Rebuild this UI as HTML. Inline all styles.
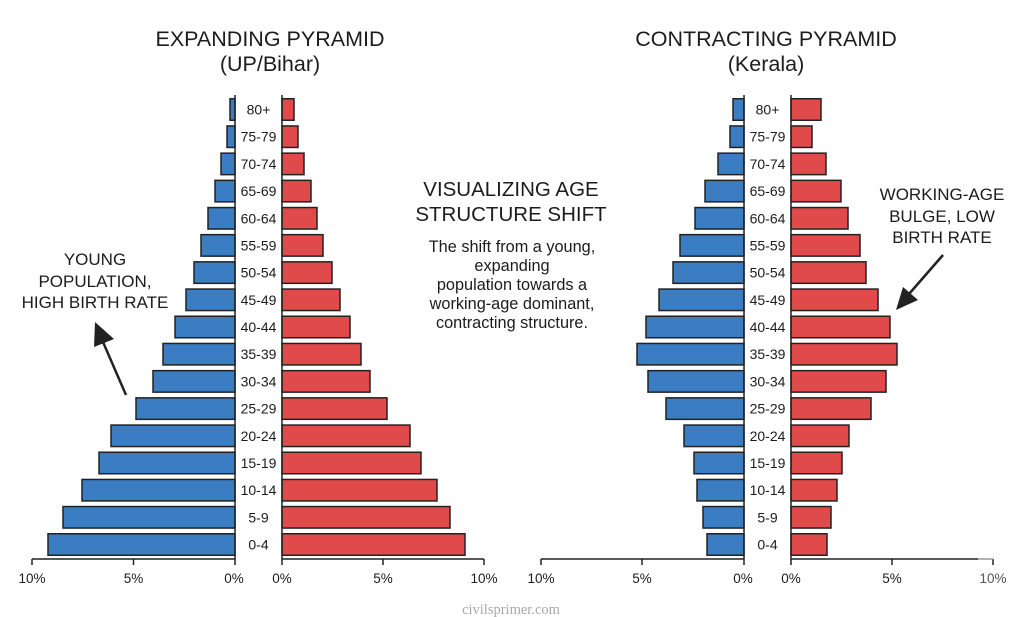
<!DOCTYPE html>
<html><head><meta charset="utf-8"><style>
html,body{margin:0;padding:0;background:#fff;}
svg{display:block;}
text{font-family:"Liberation Sans",sans-serif;fill:#1c1c1c;}
.t{font-size:21.5px;}
.a{font-size:14px;}
.k{font-size:13.5px;}
.n{font-size:17px;}
.b{font-size:16.3px;}
.B rect{fill:#3b7dc2;stroke:#222;stroke-width:1.5;}
.R rect{fill:#e14a4b;stroke:#222;stroke-width:1.5;}
.ax{stroke:#222;stroke-width:1.5;fill:none;}
</style></head><body>
<svg width="1024" height="617" viewBox="0 0 1024 617" xmlns="http://www.w3.org/2000/svg">
<rect width="1024" height="617" fill="#fff"/>

<!-- Titles -->
<text class="t" x="270" y="46" text-anchor="middle">EXPANDING PYRAMID</text>
<text class="t" x="270" y="71" text-anchor="middle">(UP/Bihar)</text>
<text class="t" x="766" y="46" text-anchor="middle">CONTRACTING PYRAMID</text>
<text class="t" x="766" y="71" text-anchor="middle">(Kerala)</text>

<!-- Middle -->
<text class="t" x="511" y="196" text-anchor="middle" style="font-size:20.5px">VISUALIZING AGE</text>
<text class="t" x="511" y="221" text-anchor="middle" style="font-size:20.5px">STRUCTURE SHIFT</text>
<g class="b" text-anchor="middle">
<text class="b" x="512" y="252">The shift from a young,</text>
<text class="b" x="512" y="271">expanding</text>
<text class="b" x="512" y="290">population towards a</text>
<text class="b" x="512" y="309">working-age dominant,</text>
<text class="b" x="512" y="328">contracting structure.</text>
</g>

<!-- Annotations -->
<g text-anchor="middle">
<text class="n" x="95" y="265">YOUNG</text>
<text class="n" x="95" y="287">POPULATION,</text>
<text class="n" x="95" y="308">HIGH BIRTH RATE</text>
<text class="n" x="942" y="200">WORKING-AGE</text>
<text class="n" x="942" y="222">BULGE, LOW</text>
<text class="n" x="942" y="243">BIRTH RATE</text>
</g>
<line x1="126" y1="395" x2="103" y2="342" stroke="#222" stroke-width="2.5"/>
<polygon points="95,322 114,339 94,347" fill="#222"/>
<line x1="943" y1="255" x2="909" y2="294" stroke="#222" stroke-width="2.5"/>
<polygon points="896,310 903,287 918,300" fill="#222"/>

<!-- LEFT PYRAMID -->
<g class="B">
<rect x="230" y="98.75" width="5" height="21.5"/>
<rect x="227" y="125.95" width="8" height="21.5"/>
<rect x="221" y="153.15" width="14" height="21.5"/>
<rect x="215" y="180.35" width="20" height="21.5"/>
<rect x="208" y="207.55" width="27" height="21.5"/>
<rect x="201" y="234.65" width="34" height="21.5"/>
<rect x="194" y="261.85" width="41" height="21.5"/>
<rect x="186" y="289.05" width="49" height="21.5"/>
<rect x="175" y="316.25" width="60" height="21.5"/>
<rect x="163" y="343.45" width="72" height="21.5"/>
<rect x="153" y="370.65" width="82" height="21.5"/>
<rect x="136" y="397.85" width="99" height="21.5"/>
<rect x="111" y="425.05" width="124" height="21.5"/>
<rect x="99" y="452.25" width="136" height="21.5"/>
<rect x="82" y="479.45" width="153" height="21.5"/>
<rect x="63" y="506.55" width="172" height="21.5"/>
<rect x="48" y="533.75" width="187" height="21.5"/>
</g>
<g class="R">
<rect x="282" y="98.75" width="12" height="21.5"/>
<rect x="282" y="125.95" width="16" height="21.5"/>
<rect x="282" y="153.15" width="22" height="21.5"/>
<rect x="282" y="180.35" width="29" height="21.5"/>
<rect x="282" y="207.55" width="35" height="21.5"/>
<rect x="282" y="234.65" width="41" height="21.5"/>
<rect x="282" y="261.85" width="50" height="21.5"/>
<rect x="282" y="289.05" width="58" height="21.5"/>
<rect x="282" y="316.25" width="68" height="21.5"/>
<rect x="282" y="343.45" width="79" height="21.5"/>
<rect x="282" y="370.65" width="88" height="21.5"/>
<rect x="282" y="397.85" width="105" height="21.5"/>
<rect x="282" y="425.05" width="128" height="21.5"/>
<rect x="282" y="452.25" width="139" height="21.5"/>
<rect x="282" y="479.45" width="155" height="21.5"/>
<rect x="282" y="506.55" width="168" height="21.5"/>
<rect x="282" y="533.75" width="183" height="21.5"/>
</g>
<g class="a" text-anchor="middle">
<text class="a" x="258.5" y="114.5">80+</text>
<text class="a" x="258.5" y="141.7">75-79</text>
<text class="a" x="258.5" y="168.9">70-74</text>
<text class="a" x="258.5" y="196.1">65-69</text>
<text class="a" x="258.5" y="223.3">60-64</text>
<text class="a" x="258.5" y="250.4">55-59</text>
<text class="a" x="258.5" y="277.6">50-54</text>
<text class="a" x="258.5" y="304.8">45-49</text>
<text class="a" x="258.5" y="332">40-44</text>
<text class="a" x="258.5" y="359.2">35-39</text>
<text class="a" x="258.5" y="386.4">30-34</text>
<text class="a" x="258.5" y="413.6">25-29</text>
<text class="a" x="258.5" y="440.8">20-24</text>
<text class="a" x="258.5" y="468">15-19</text>
<text class="a" x="258.5" y="495.2">10-14</text>
<text class="a" x="258.5" y="522.3">5-9</text>
<text class="a" x="258.5" y="549.5">0-4</text>
</g>
<path class="ax" d="M235,95 V565 M282,95 V565 M32,559 H235 M282,559 H484 M32,559 V565 M133.5,559 V565 M383,559 V565 M484,559 V565"/>
<g text-anchor="middle">
<text class="k" x="32" y="583">10%</text>
<text class="k" x="133.5" y="583">5%</text>
<text class="k" x="234" y="583">0%</text>
<text class="k" x="282" y="583">0%</text>
<text class="k" x="383" y="583">5%</text>
<text class="k" x="484" y="583">10%</text>
</g>

<!-- RIGHT PYRAMID -->
<g class="B">
<rect x="733" y="98.75" width="11" height="21.5"/>
<rect x="730" y="125.95" width="14" height="21.5"/>
<rect x="718" y="153.15" width="26" height="21.5"/>
<rect x="705" y="180.35" width="39" height="21.5"/>
<rect x="695" y="207.55" width="49" height="21.5"/>
<rect x="680" y="234.65" width="64" height="21.5"/>
<rect x="673" y="261.85" width="71" height="21.5"/>
<rect x="659" y="289.05" width="85" height="21.5"/>
<rect x="646" y="316.25" width="98" height="21.5"/>
<rect x="637" y="343.45" width="107" height="21.5"/>
<rect x="648" y="370.65" width="96" height="21.5"/>
<rect x="666" y="397.85" width="78" height="21.5"/>
<rect x="684" y="425.05" width="60" height="21.5"/>
<rect x="694" y="452.25" width="50" height="21.5"/>
<rect x="697" y="479.45" width="47" height="21.5"/>
<rect x="703" y="506.55" width="41" height="21.5"/>
<rect x="707" y="533.75" width="37" height="21.5"/>
</g>
<g class="R">
<rect x="791" y="98.75" width="30" height="21.5"/>
<rect x="791" y="125.95" width="21" height="21.5"/>
<rect x="791" y="153.15" width="35" height="21.5"/>
<rect x="791" y="180.35" width="50" height="21.5"/>
<rect x="791" y="207.55" width="57" height="21.5"/>
<rect x="791" y="234.65" width="69" height="21.5"/>
<rect x="791" y="261.85" width="75" height="21.5"/>
<rect x="791" y="289.05" width="87" height="21.5"/>
<rect x="791" y="316.25" width="99" height="21.5"/>
<rect x="791" y="343.45" width="106" height="21.5"/>
<rect x="791" y="370.65" width="95" height="21.5"/>
<rect x="791" y="397.85" width="80" height="21.5"/>
<rect x="791" y="425.05" width="58" height="21.5"/>
<rect x="791" y="452.25" width="51" height="21.5"/>
<rect x="791" y="479.45" width="46" height="21.5"/>
<rect x="791" y="506.55" width="40" height="21.5"/>
<rect x="791" y="533.75" width="36" height="21.5"/>
</g>
<g class="a" text-anchor="middle">
<text class="a" x="767.5" y="114.5">80+</text>
<text class="a" x="767.5" y="141.7">75-79</text>
<text class="a" x="767.5" y="168.9">70-74</text>
<text class="a" x="767.5" y="196.1">65-69</text>
<text class="a" x="767.5" y="223.3">60-64</text>
<text class="a" x="767.5" y="250.4">55-59</text>
<text class="a" x="767.5" y="277.6">50-54</text>
<text class="a" x="767.5" y="304.8">45-49</text>
<text class="a" x="767.5" y="332">40-44</text>
<text class="a" x="767.5" y="359.2">35-39</text>
<text class="a" x="767.5" y="386.4">30-34</text>
<text class="a" x="767.5" y="413.6">25-29</text>
<text class="a" x="767.5" y="440.8">20-24</text>
<text class="a" x="767.5" y="468">15-19</text>
<text class="a" x="767.5" y="495.2">10-14</text>
<text class="a" x="767.5" y="522.3">5-9</text>
<text class="a" x="767.5" y="549.5">0-4</text>
</g>
<path class="ax" d="M744,95 V565 M791,95 V565 M541,559 H744 M791,559 H978 M541,559 V565 M642,559 V565 M892,559 V565 M993,559 V565"/>
<path d="M978,559 H993" stroke="#999" stroke-width="1.5"/>
<g text-anchor="middle">
<text class="k" x="541" y="583">10%</text>
<text class="k" x="642" y="583">5%</text>
<text class="k" x="743" y="583">0%</text>
<text class="k" x="791" y="583">0%</text>
<text class="k" x="892" y="583">5%</text>
<text class="k" x="993" y="583" style="fill:#555">10%</text>
</g>

<!-- watermark -->
<text x="511" y="614" text-anchor="middle" style="font-family:'Liberation Serif',serif;font-size:14.5px;fill:#a8a8a8">civilsprimer.com</text>
</svg>
</body></html>
